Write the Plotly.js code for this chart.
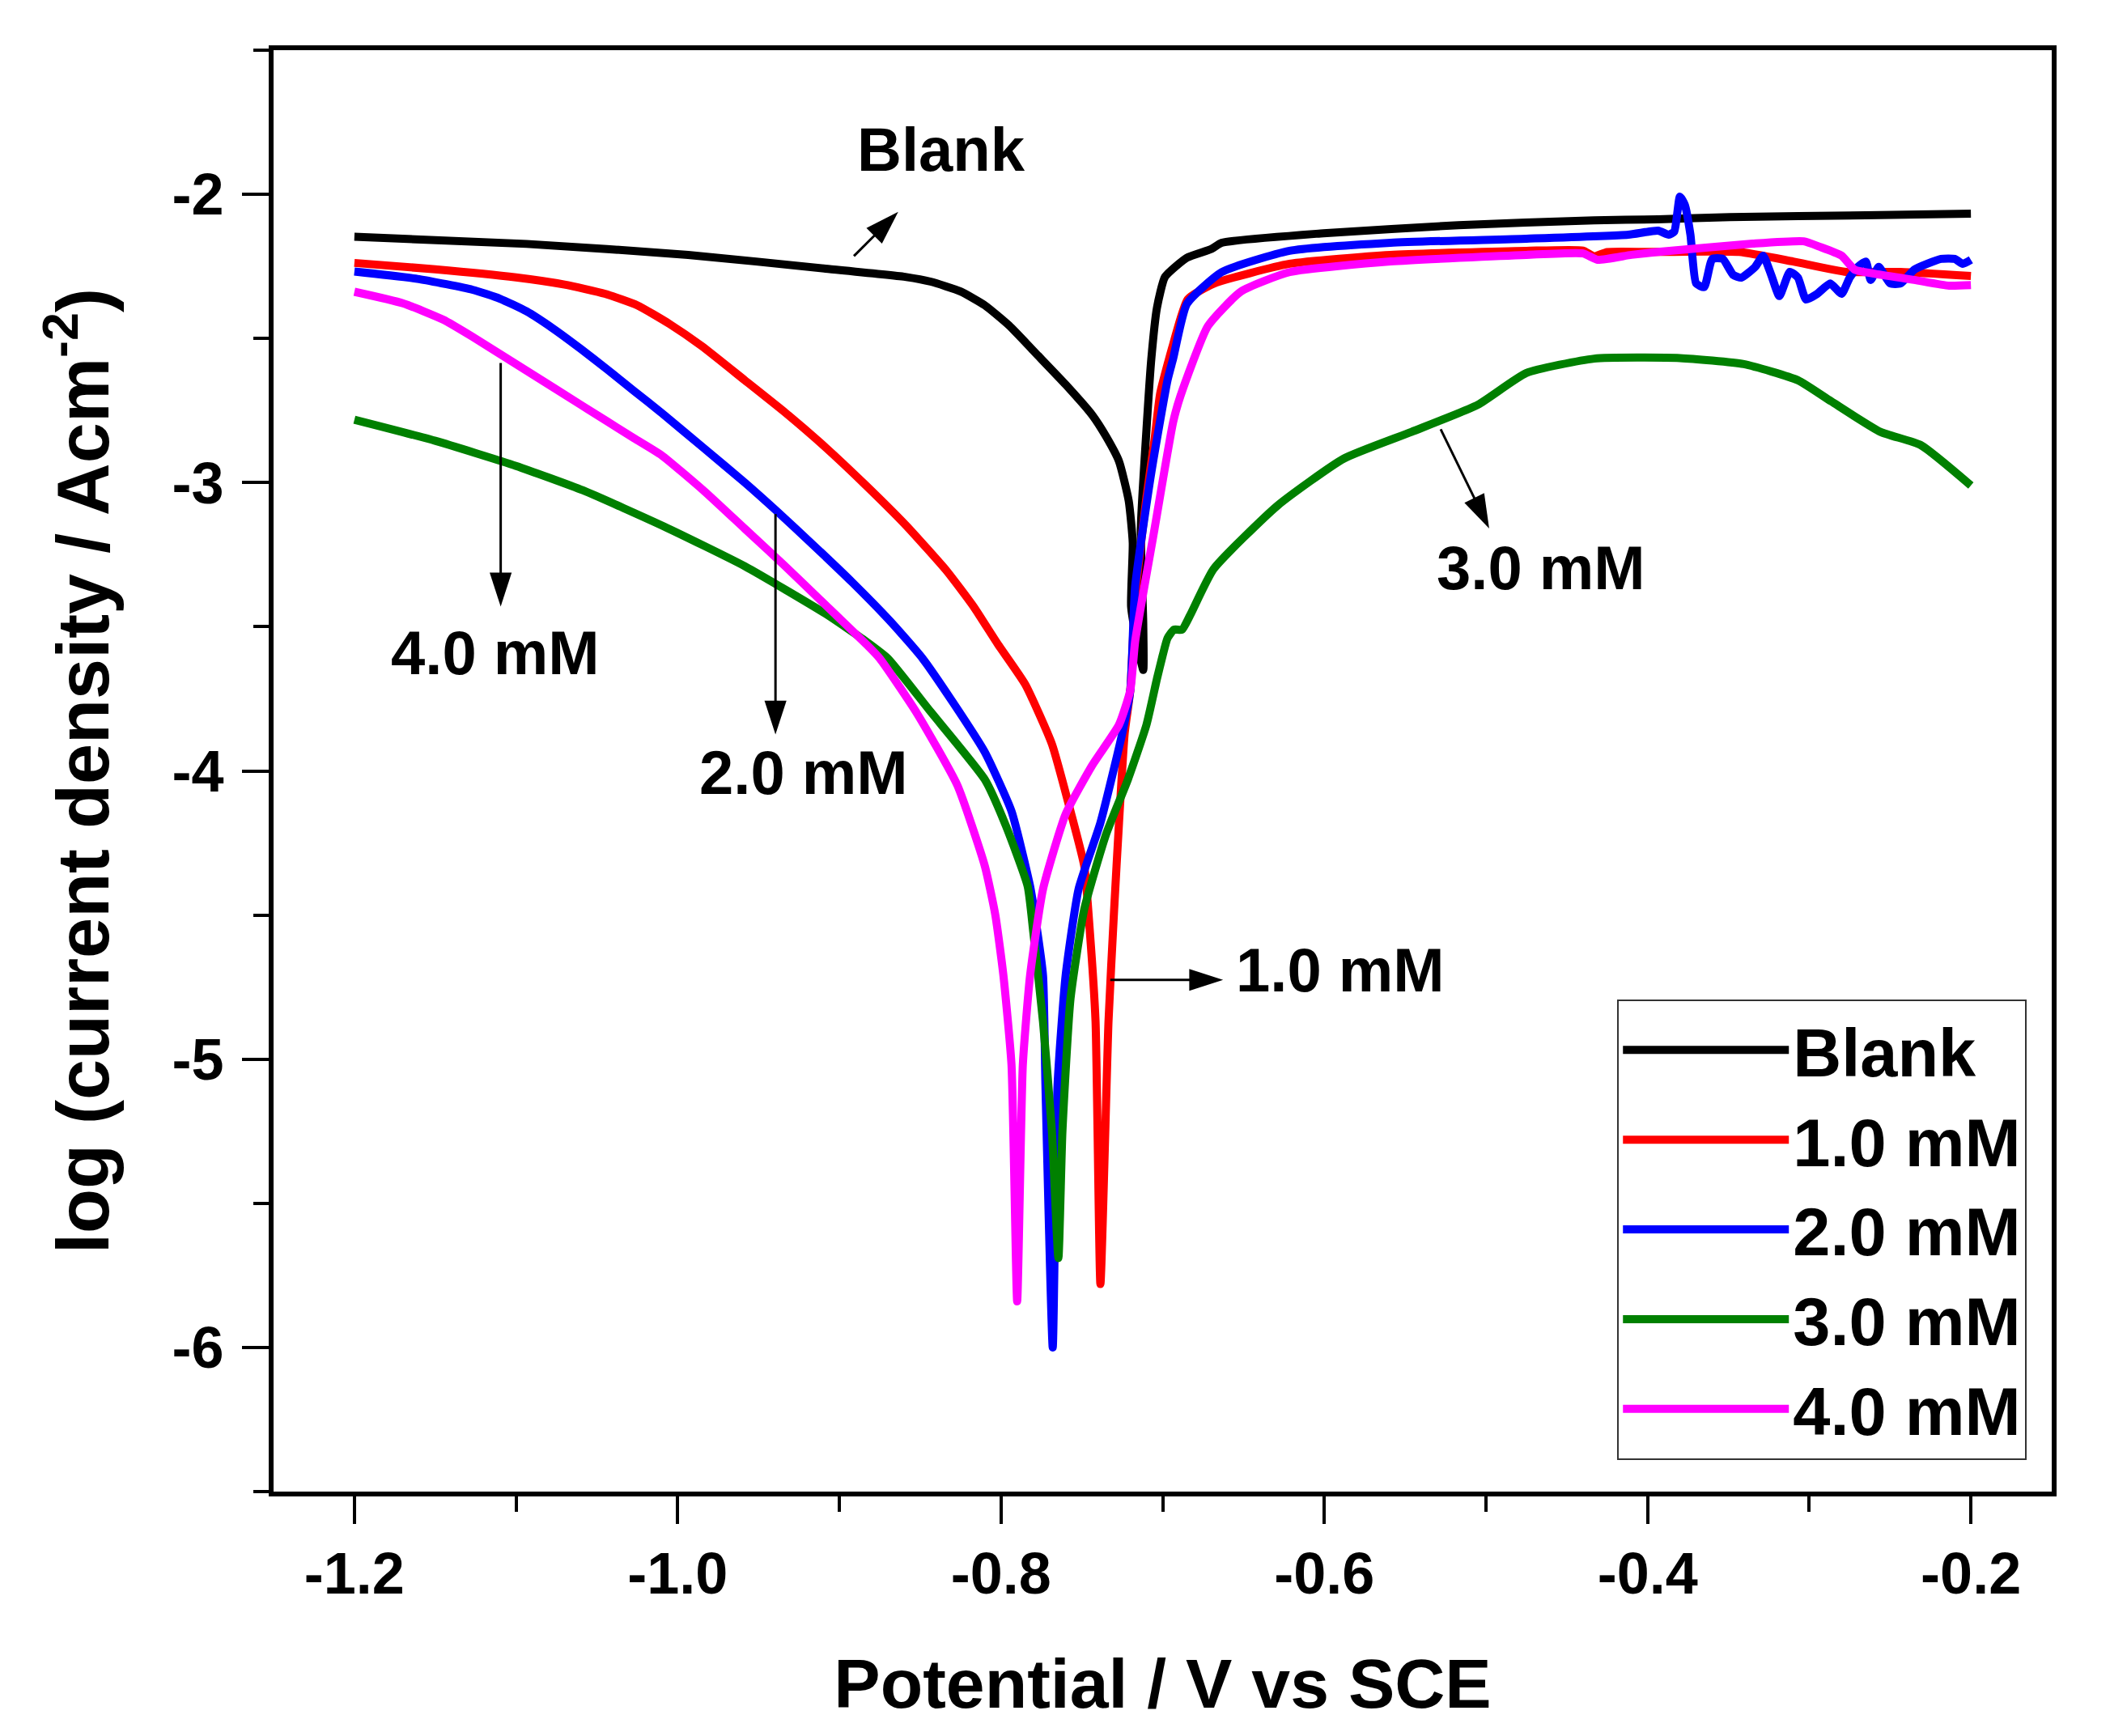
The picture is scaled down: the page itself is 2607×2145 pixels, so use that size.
<!DOCTYPE html>
<html>
<head>
<meta charset="utf-8">
<script src="https://cdn.plot.ly/plotly-3.0.1.min.js"></script>
<style>html,body{margin:0;padding:0;background:#fff;}#chart{width:2607px;height:2145px;}</style>
</head>
<body>
<div id="chart"></div>
<script>
// ---- data ----
const seriesNames = ['Blank', '1.0 mM', '2.0 mM', '3.0 mM', '4.0 mM'];
const seriesColors = ['#000000', '#ff0000', '#0000ff', '#008000', '#ff00ff'];

const blankX = [-1.2, -1.0935, -0.9935, -0.9085, -0.8585, -0.8435, -0.825, -0.81, -0.795, -0.777, -0.76, -0.7435, -0.735, -0.727, -0.721, -0.7185, -0.7195, -0.716, -0.712, -0.712, -0.7135, -0.71, -0.707, -0.7035, -0.6985, -0.685, -0.67, -0.6635, -0.6005, -0.517, -0.433, -0.3935, -0.349, -0.265, -0.2];
const blankY = [-2.147, -2.172, -2.21, -2.258, -2.287, -2.303, -2.337, -2.385, -2.455, -2.56, -2.66, -2.766, -2.84, -2.926, -3.063, -3.209, -3.43, -3.55, -3.65, -3.49, -3.16, -2.816, -2.57, -2.393, -2.286, -2.22, -2.19, -2.168, -2.135, -2.107, -2.09, -2.087, -2.079, -2.073, -2.067];

const mM1X = [-1.2, -1.15, -1.1, -1.07, -1.045, -1.025, -1.005, -0.985, -0.9585, -0.9335, -0.9085, -0.8835, -0.8585, -0.8335, -0.817, -0.802, -0.785, -0.7685, -0.757, -0.7485, -0.745, -0.7415, -0.7385, -0.7335, -0.73, -0.727, -0.7235, -0.72, -0.717, -0.71, -0.705, -0.7015, -0.6935, -0.6845, -0.6685, -0.6215, -0.559, -0.475, -0.44, -0.433, -0.425, -0.3935, -0.3435, -0.31, -0.277, -0.2435, -0.2];
const mM1Y = [-2.238, -2.26, -2.288, -2.313, -2.345, -2.385, -2.45, -2.527, -2.645, -2.757, -2.878, -3.01, -3.15, -3.307, -3.43, -3.56, -3.70, -3.907, -4.14, -4.33, -4.56, -4.87, -5.78, -4.87, -4.48, -4.18, -3.87, -3.72, -3.40, -3.05, -2.85, -2.69, -2.52, -2.364, -2.31, -2.241, -2.21, -2.196, -2.195, -2.215, -2.20, -2.20, -2.20, -2.233, -2.269, -2.269, -2.283];

const mM2X = [-1.2, -1.16, -1.127, -1.11, -1.0935, -1.077, -1.06, -1.0435, -1.027, -1.01, -0.9835, -0.9585, -0.9385, -0.917, -0.892, -0.867, -0.8485, -0.83, -0.81, -0.7935, -0.782, -0.7785, -0.774, -0.7725, -0.768, -0.765, -0.76, -0.752, -0.7385, -0.725, -0.72, -0.717, -0.707, -0.697, -0.6935, -0.685, -0.6635, -0.6215, -0.559, -0.475, -0.412, -0.3935, -0.387, -0.3835, -0.38, -0.377, -0.3735, -0.37, -0.365, -0.36, -0.3535, -0.347, -0.342, -0.3335, -0.3285, -0.3235, -0.3185, -0.312, -0.307, -0.302, -0.295, -0.287, -0.28, -0.275, -0.27, -0.265, -0.262, -0.257, -0.25, -0.2435, -0.235, -0.227, -0.2185, -0.21, -0.205, -0.2];
const mM2Y = [-2.268, -2.294, -2.331, -2.362, -2.406, -2.466, -2.536, -2.608, -2.682, -2.758, -2.882, -3.00, -3.10, -3.212, -3.346, -3.49, -3.61, -3.76, -3.935, -4.14, -4.40, -4.52, -4.71, -5.09, -6.0, -5.09, -4.71, -4.41, -4.18, -3.87, -3.72, -3.36, -2.965, -2.645, -2.57, -2.38, -2.27, -2.196, -2.168, -2.154, -2.14, -2.126, -2.14, -2.129, -2.008, -2.036, -2.14, -2.309, -2.322, -2.224, -2.224, -2.28, -2.289, -2.252, -2.213, -2.28, -2.353, -2.269, -2.289, -2.365, -2.345, -2.309, -2.345, -2.289, -2.252, -2.233, -2.297, -2.252, -2.309, -2.309, -2.261, -2.241, -2.224, -2.224, -2.241, -2.227];

const mM3X = [-1.2, -1.15, -1.1, -1.0585, -1.0085, -0.9585, -0.9085, -0.8835, -0.87, -0.8435, -0.81, -0.797, -0.7835, -0.78, -0.774, -0.7685, -0.7645, -0.762, -0.757, -0.7485, -0.735, -0.7215, -0.71, -0.7035, -0.70, -0.697, -0.693, -0.688, -0.683, -0.6685, -0.629, -0.588, -0.546, -0.505, -0.475, -0.433, -0.38, -0.3405, -0.307, -0.2865, -0.256, -0.231, -0.2];
const mM3Y = [-2.782, -2.855, -2.942, -3.027, -3.152, -3.29, -3.455, -3.551, -3.61, -3.795, -4.03, -4.19, -4.40, -4.56, -4.87, -5.25, -5.69, -5.25, -4.79, -4.48, -4.22, -4.03, -3.84, -3.68, -3.60, -3.54, -3.51, -3.51, -3.46, -3.30, -3.08, -2.917, -2.824, -2.73, -2.62, -2.57, -2.568, -2.589, -2.645, -2.718, -2.824, -2.87, -3.01];

const mM4X = [-1.2, -1.17, -1.145, -1.127, -1.0935, -1.06, -1.027, -1.01, -0.9835, -0.9585, -0.9335, -0.9085, -0.8835, -0.875, -0.852, -0.827, -0.81, -0.8035, -0.7985, -0.7935, -0.79, -0.7865, -0.782, -0.774, -0.76, -0.7435, -0.727, -0.72, -0.717, -0.705, -0.6935, -0.689, -0.672, -0.6515, -0.6215, -0.559, -0.475, -0.44, -0.431, -0.41, -0.3935, -0.335, -0.3035, -0.2935, -0.28, -0.272, -0.26, -0.235, -0.2135, -0.2];
const mM4Y = [-2.338, -2.378, -2.435, -2.494, -2.612, -2.73, -2.846, -2.905, -3.03, -3.16, -3.29, -3.425, -3.56, -3.61, -3.80, -4.05, -4.33, -4.50, -4.71, -5.02, -5.84, -5.02, -4.71, -4.41, -4.15, -3.98, -3.84, -3.72, -3.55, -3.16, -2.79, -2.70, -2.457, -2.337, -2.27, -2.233, -2.21, -2.205, -2.227, -2.21, -2.20, -2.171, -2.163, -2.182, -2.213, -2.261, -2.275, -2.297, -2.317, -2.315];

const xTickVals = [-1.2, -1.0, -0.8, -0.6, -0.4, -0.2];
const xTickText = ['-1.2', '-1.0', '-0.8', '-0.6', '-0.4', '-0.2'];
const yTickVals = [-6, -5, -4, -3, -2];
const yTickText = ['-6', '-5', '-4', '-3', '-2'];

// curve labels and their pointer arrows (tail -> head)
const labelText = ['Blank', '4.0 mM', '2.0 mM', '3.0 mM', '1.0 mM'];
const labelX = [-0.837, -1.113, -0.922, -0.466, -0.590];
const labelY = [-1.845, -3.591, -4.005, -3.295, -4.692];
const arrowTailX = [-0.891, -1.1095, -0.9395, -0.528, -0.7324];
const arrowTailY = [-2.214, -2.585, -3.109, -2.815, -4.725];
const arrowHeadX = [-0.8636, -1.1095, -0.9395, -0.498, -0.6626];
const arrowHeadY = [-2.061, -3.43, -3.874, -3.159, -4.725];

// ---- chart ----
const allX = [blankX, mM1X, mM2X, mM3X, mM4X];
const allY = [blankY, mM1Y, mM2Y, mM3Y, mM4Y];
const FONT = 'Liberation Sans, Arial, Helvetica, sans-serif';

const traces = seriesNames.map((n, i) => ({
  type: 'scatter', mode: 'lines', name: n,
  x: allX[i], y: allY[i],
  line: {color: seriesColors[i], width: 10, shape: 'spline', smoothing: 0.5}
}));

arrowTailX.forEach((tx, i) => {
  traces.push({
    type: 'scatter', mode: 'lines+markers', showlegend: false, hoverinfo: 'skip',
    x: [tx, arrowHeadX[i]], y: [arrowTailY[i], arrowHeadY[i]],
    line: {color: '#000', width: 3},
    marker: {symbol: ['circle', 'arrow'], size: [0, 44], angleref: 'previous', color: '#000', opacity: 1, line: {width: 0}}
  });
});

const annotations = labelText.map((t, i) => ({
  x: labelX[i], y: labelY[i], xref: 'x', yref: 'y', text: t, showarrow: false,
  font: {family: FONT, size: 76, color: '#000', weight: 'bold'}
}));

const layout = {
  width: 2607, height: 2145,
  margin: {l: 338, r: 72, t: 62, b: 302},
  paper_bgcolor: '#fff', plot_bgcolor: '#fff',
  font: {family: FONT, color: '#000', weight: 'bold'},
  showlegend: true,
  legend: {
    x: 0.986, xanchor: 'right', y: 0.022, yanchor: 'bottom',
    bgcolor: '#fff', bordercolor: '#333', borderwidth: 2,
    font: {family: FONT, size: 83, color: '#000', weight: 'bold'},
    itemwidth: 205, tracegroupgap: 0
  },
  xaxis: {
    range: [-1.25, -0.15], tickvals: xTickVals, ticktext: xTickText,
    ticks: 'outside', ticklen: 34, tickwidth: 4, tickcolor: '#000',
    minor: {dtick: 0.1, tick0: -1.2, ticks: 'outside', ticklen: 19, tickwidth: 4, tickcolor: '#000', showgrid: false},
    showline: true, linewidth: 6, linecolor: '#000', mirror: true,
    showgrid: false, zeroline: false,
    tickfont: {family: FONT, size: 72, color: '#000', weight: 'bold'},
    title: {text: 'Potential / V vs SCE', font: {family: FONT, size: 86, color: '#000', weight: 'bold'}, standoff: 68}
  },
  yaxis: {
    range: [-6.5, -1.5], tickvals: yTickVals, ticktext: yTickText,
    ticks: 'outside', ticklen: 33, tickwidth: 4, tickcolor: '#000',
    minor: {dtick: 0.5, tick0: -2, ticks: 'outside', ticklen: 19, tickwidth: 4, tickcolor: '#000', showgrid: false},
    showline: true, linewidth: 6, linecolor: '#000', mirror: true,
    showgrid: false, zeroline: false, ticklabelstandoff: 8,
    tickfont: {family: FONT, size: 72, color: '#000', weight: 'bold'},
    title: {text: 'log (current density / Acm<sup>-2</sup>)', font: {family: FONT, size: 90, color: '#000', weight: 'bold'}, standoff: 50}
  },
  annotations: annotations
};

Plotly.newPlot('chart', traces, layout, {staticPlot: true, displayModeBar: false});
</script>
</body>
</html>
